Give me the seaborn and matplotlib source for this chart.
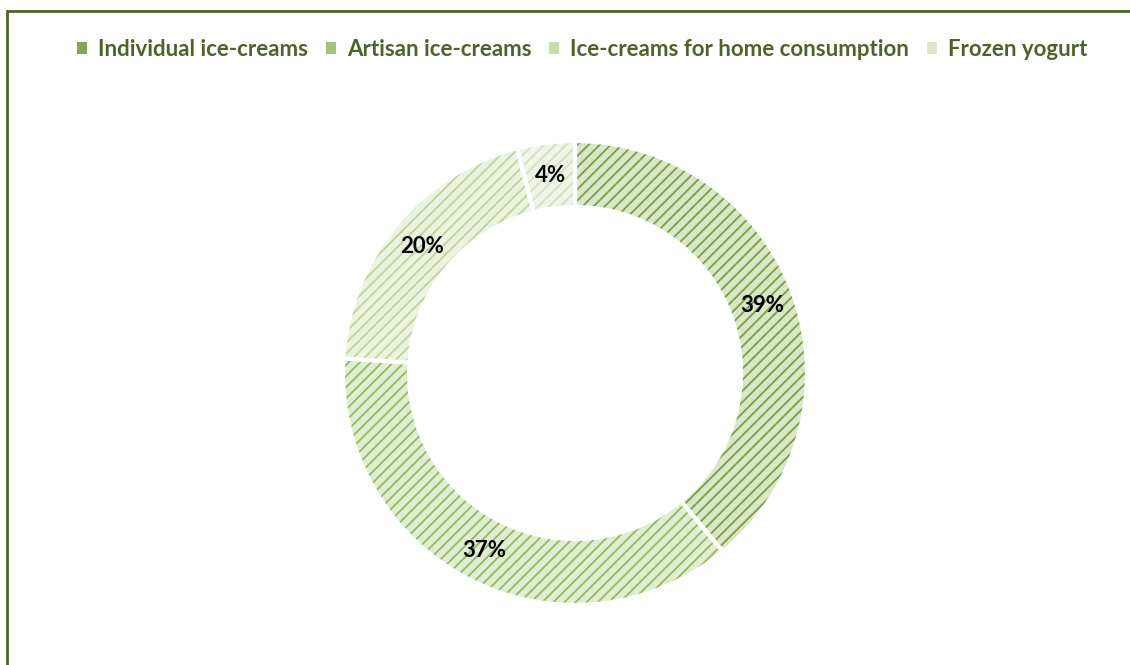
import matplotlib
matplotlib.use("Agg")
import matplotlib.pyplot as plt
import seaborn as sns
import numpy as np
from matplotlib.patches import Patch, Rectangle

categories = ["Individual ice-creams", "Artisan ice-creams",
              "Ice-creams for home consumption", "Frozen yogurt"]
values = [39, 37, 20, 4]
labels = ["39%", "37%", "20%", "4%"]

face_colors = ["#dbe6c8", "#e2ecd3", "#ecf2e0", "#eff4e8"]
hatch_colors = ["#77a03c", "#93bb5a", "#bdd596", "#d3e2bc"]
legend_colors = ["#86a65a", "#a3c178", "#c8dba8", "#dce7cb"]

sns.set_theme(style="white")
plt.rcParams['font.family'] = ['Lato', 'DejaVu Sans']
plt.rcParams['hatch.linewidth'] = 1.3

W, H = 1130, 665
fig = plt.figure(figsize=(W / 100, H / 100), dpi=100)
ax = fig.add_axes([0, 0, 1, 1])

cx, cy, R, r_in = 575, H - 373, 232, 166
wedges, _ = ax.pie(values, startangle=90, counterclock=False,
                   center=(cx, cy), radius=R,
                   wedgeprops=dict(width=R - r_in, edgecolor="white", linewidth=3))
for w, fc, hc in zip(wedges, face_colors, hatch_colors):
    w.set_facecolor(fc)
    w.set_hatch("///")
    w._hatch_color = matplotlib.colors.to_rgba(hc)

mid = (R + r_in) / 2
start = 90
tot = sum(values)
for v, lab in zip(values, labels):
    ang = np.deg2rad(start - v / tot * 360 / 2)
    ax.text(cx + mid * np.cos(ang), cy + mid * np.sin(ang), lab,
            ha="center", va="center", fontsize=16, fontweight="bold", color="black")
    start -= v / tot * 360

ax.set_xlim(0, W)
ax.set_ylim(0, H)
ax.set_aspect("equal")
ax.axis("off")

# frame border
fig.patches.append(Rectangle((7 / W, -0.05), 1.2, (H - 11) / H + 0.05,
                             transform=fig.transFigure, fill=False,
                             edgecolor="#4f6228", linewidth=2))

handles = [Patch(facecolor=lc, edgecolor="none", label=c)
           for c, lc in zip(categories, legend_colors)]
leg = fig.legend(handles=handles, loc="center", bbox_to_anchor=(582 / W, 1 - 49 / H),
                 ncol=4, frameon=False, handlelength=0.45, handleheight=0.45,
                 handletextpad=0.5, columnspacing=0.8,
                 prop=dict(family="Lato", weight="bold", size=16))
for t in leg.get_texts():
    t.set_color("#4f6228")

fig.savefig("out.png", dpi=100)
